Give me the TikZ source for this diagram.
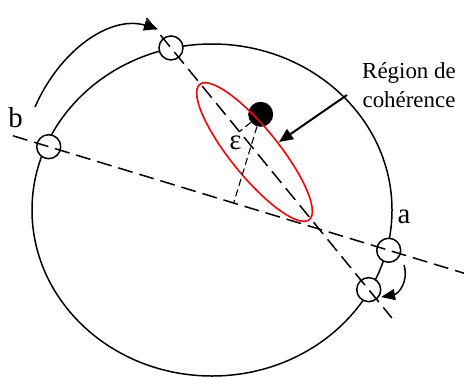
\documentclass[tikz,border=0pt]{standalone}
\usepackage{fontspec}
\setmainfont{Liberation Serif}
\usetikzlibrary{arrows.meta,calc}
\definecolor{ink}{HTML}{000000}
\definecolor{regionred}{HTML}{FF0000}
\tikzset{
  orbit/.style={draw=ink,line width=1.5bp},
  marker/.style={
    circle,
    draw=ink,
    fill=white,
    line width=1.5bp,
    minimum size=24bp,
    inner sep=0pt
  },
  source/.style={circle,fill=ink,minimum size=25bp,inner sep=0pt},
  axis line/.style={draw=ink,line width=1.5bp,dash pattern=on 15bp off 7bp},
  foot line/.style={draw=ink,line width=1.1bp,dash pattern=on 7bp off 4bp},
  region/.style={draw=regionred,line width=1.6bp},
  sweep/.style={-{Triangle[length=14bp,width=11bp]},draw=ink,line width=1.5bp},
  pointer/.style={-{Triangle[length=14bp,width=12bp]},draw=ink,line width=2bp},
  letter/.style={font=\fontsize{23}{29}\selectfont,text=ink,inner sep=0pt},
  big letter/.style={letter,font=\fontsize{29}{34}\selectfont}
}

\begin{document}
\begin{tikzpicture}[x=1bp,y=1bp]
  \useasboundingbox (0,0) rectangle (464,376);

  \draw[orbit] (212,166) ellipse [x radius=180bp, y radius=166bp];

  % the two axes
  \coordinate (b end) at (13,240.2);
  \coordinate (a end) at (464,102.8);
  \coordinate (top end) at (146.5,358);
  \coordinate (low end) at (391.9,58);

  \node[source] (dot) at (260.7,261.7) {};
  \coordinate (region c) at (254.5,224);
  \draw[region,rotate around={-51:(region c)}]
    (region c) ellipse [x radius=87bp, y radius=24bp];

  \node[marker] (b old) at ($(b end)!0.0792!(a end)$) {};
  \node[marker] (a old) at ($(b end)!0.833!(a end)$) {};
  \node[marker] (b new) at ($(top end)!0.0998!(low end)$) {};
  \node[marker] (a new) at ($(top end)!0.9055!(low end)$) {};

  \draw[axis line] (b end) -- (a end);
  \draw[axis line] (top end) -- (low end);

  \coordinate (foot b) at ($(b end)!(dot)!(a end)$);
  \coordinate (foot t) at ($(top end)!(dot)!(low end)$);
  \draw[foot line] (dot) -- (foot b);
  \draw[foot line] (dot) -- (foot t);

  \node[big letter] (eps) at (235.5,233.5) {ε};
  \node[big letter,anchor=base] (b tag) at (15.5,249) {b};
  \node[big letter,anchor=base] (a tag) at (404,153) {a};
  \node[letter,align=center] (coherence) at (409,290.8) {Région de\\cohérence};

  % rotations
  \coordinate (b from) at (35,269);
  \coordinate (b to) at (158,347);
  \draw[sweep] (b from) .. controls (60,326) and (110,361) .. (b to);
  \coordinate (a from) at (404,111);
  \coordinate (a to) at (381,79);
  \draw[sweep] (a from) .. controls (409,94) and (398,82) .. (a to);

  \coordinate (pointer from) at (347,281);
  \coordinate (region edge) at (279,234);
  \draw[pointer] (pointer from) -- (region edge);
\end{tikzpicture}
\end{document}
